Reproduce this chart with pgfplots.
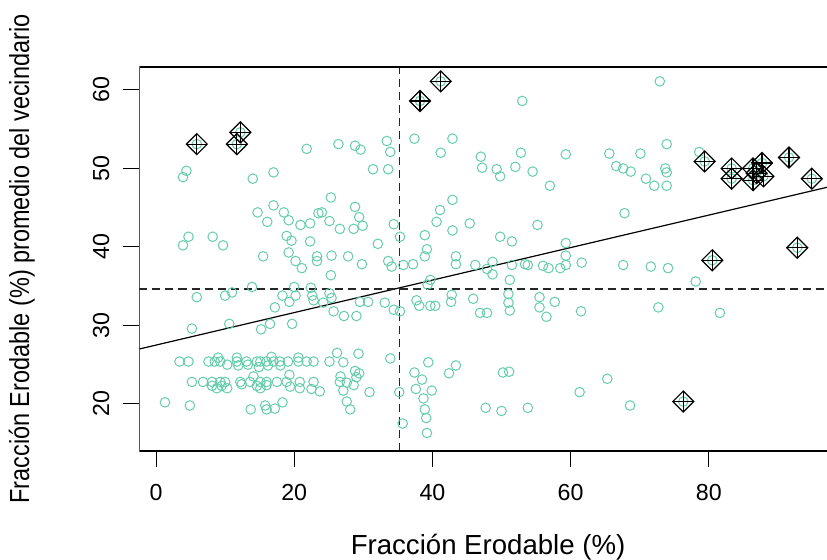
\documentclass[border=0pt]{standalone}
\usepackage{fontspec}
\setmainfont{Liberation Sans}
\usepackage{graphicx}
\usepackage{pgfplots}
\pgfplotsset{compat=1.18}
\usetikzlibrary{calc}
\definecolor{pts}{HTML}{66CDAA}

\begin{document}
\begin{tikzpicture}
\begin{axis}[name=ax,scale only axis,width=343.75pt,height=192pt,
xmin=-2.39,xmax=97.1,ymin=14.0,ymax=62.93,
xtick={0,20,40,60,80},ytick={20,30,40,50,60},
xtick pos=bottom,ytick pos=left,
tick align=outside,major tick length=8pt,tick style={black,line width=0.5pt},
axis line style={draw=none},
/pgf/number format/assume math mode=true,
ticklabel style={font=\fontsize{11.6}{13}\selectfont},
xticklabel style={yshift=-5pt},
yticklabel style={xshift=-3.5pt,rotate=90,anchor=south},
xlabel={Fracción Erodable (\%)},
ylabel={\scalebox{0.85}[1]{Fracción Erodable (\%) promedio del vecindario}},
label style={font=\fontsize{13.8}{16}\selectfont},
xlabel style={at={(axis description cs:0.507,-0.25)},anchor=center},
ylabel style={at={(axis description cs:-0.171,0.5)},anchor=center}]
% todos los puntos
\addplot[only marks,mark=o,mark size=2.4pt,pts,mark options={line width=0.5pt}] coordinates {
(5.9,53.1)(12.2,54.6)(11.7,53.1)(21.8,52.5)(4.4,49.7)(3.9,48.9)(14.0,48.7)(17.0,49.5)
(41.2,61.1)(38.2,58.6)(26.4,53.1)(28.8,52.9)(29.6,52.4)(33.4,53.5)(33.9,52.1)(37.4,53.8)
(42.9,53.8)(41.2,52.0)(31.4,49.9)(33.6,49.9)(47.0,51.5)(47.2,50.1)(49.3,49.9)(49.8,49.0)
(72.9,61.1)(53.0,58.6)(52.8,52.0)(59.3,51.8)(65.6,51.9)(70.1,51.9)(73.9,53.1)(52.0,50.2)
(54.5,49.6)(57.0,47.8)(66.6,50.3)(67.6,50.0)(68.7,49.6)(70.9,48.7)(72.1,47.8)(73.7,50.0)
(73.9,49.5)(73.9,47.8)(78.6,52.1)
(79.4,50.9)(83.3,50.0)(83.3,48.7)(86.4,50.0)(87.7,50.7)(86.9,49.4)(86.4,48.5)(87.9,49.0)
(91.6,51.4)(94.9,48.7)(80.5,38.3)(92.8,39.9)(76.3,20.3)
(78.1,35.6)(81.6,31.6)
(17.0,45.3)(14.7,44.4)(18.5,44.4)(16.1,43.2)(19.2,43.4)(20.9,42.8)(22.3,43.0)(23.5,44.3)
(4.7,41.3)(3.9,40.2)(8.2,41.3)(9.7,40.2)(18.9,41.4)(19.6,40.8)(22.3,40.7)(15.5,38.8)
(19.2,39.3)(20.2,38.2)(21.1,37.3)(23.3,38.8)(23.3,38.2)(13.9,34.9)(5.9,33.6)(10.0,33.8)
(11.0,34.2)(20.0,34.9)(18.3,33.8)(19.3,33.0)(20.2,33.8)(22.4,34.8)(22.6,33.8)(22.8,33.2)
(17.2,32.3)
(25.3,46.3)(24.0,44.4)(28.8,45.1)(29.4,43.8)(25.1,43.3)(26.6,42.3)(28.6,42.3)(29.9,42.7)
(34.4,42.9)(35.3,41.3)(32.1,40.4)(38.9,41.5)(39.2,39.7)(38.9,38.8)(42.9,46.0)(41.1,44.7)
(40.6,43.2)(42.9,42.1)(45.4,43.0)(49.8,41.3)(25.4,38.9)(27.8,38.8)(29.8,37.8)(25.3,36.4)
(33.6,38.2)(34.1,37.5)(35.8,37.7)(37.2,37.8)(43.4,38.8)(43.4,37.8)(46.2,37.7)(47.9,37.2)
(48.7,38.1)(48.7,36.5)(39.7,35.8)(39.3,35.2)(25.1,34.1)(25.4,33.5)(24.2,32.9)(29.5,33.0)
(30.7,33.0)(33.1,32.9)(37.7,33.2)(38.1,32.5)(39.7,32.5)(40.4,32.5)(42.8,33.9)(42.7,33.0)
(45.9,33.4)(25.7,31.8)(34.4,32.0)(35.3,31.8)(46.9,31.6)(47.9,31.6)
(67.8,44.3)(55.2,42.8)(51.5,40.7)(59.3,40.5)(59.3,38.9)(51.5,37.7)(53.4,37.8)(53.8,37.7)
(56.0,37.6)(56.8,37.3)(58.5,37.3)(59.3,37.7)(61.6,38.0)(67.6,37.7)(71.6,37.5)(74.1,37.3)
(51.2,35.8)(51.0,34.0)(51.0,32.9)(51.2,31.9)(55.5,33.6)(57.7,33.0)(55.5,32.3)(61.5,31.8)
(72.7,32.3)(56.5,31.1)
(50.2,24.0)(51.1,24.1)(65.3,23.2)(61.3,21.5)(50.0,19.1)(53.8,19.5)(68.6,19.8)
(27.2,31.2)(29.0,31.2)
(26.2,26.5)(29.3,26.4)(25.1,25.4)(27.1,25.3)(33.9,25.8)(39.4,25.3)(43.4,24.9)(42.4,23.9)
(37.4,24.0)(38.5,23.1)(28.8,24.2)(29.4,23.9)(29.0,23.4)(26.7,23.5)(26.6,22.8)(27.6,22.7)
(28.6,22.4)(27.1,21.7)(23.7,21.6)(30.9,21.5)(35.2,21.5)(37.6,21.9)(39.9,21.7)(38.7,20.7)
(27.6,20.3)(28.1,19.3)(38.9,19.3)(39.1,18.2)(35.7,17.5)(39.2,16.3)(47.7,19.5)
(5.2,29.6)(10.6,30.2)(15.2,29.5)(16.5,30.2)(19.7,30.2)
(3.4,25.4)(4.7,25.4)(7.6,25.4)(8.5,25.4)(9.3,25.4)(11.7,25.4)(13.1,25.4)(14.6,25.4)
(15.1,25.4)(16.0,25.4)(17.0,25.4)(17.9,25.4)(19.1,25.4)(20.6,25.4)(21.8,25.4)(22.8,25.4)
(9.0,25.9)(11.7,25.9)(16.7,26.0)(20.6,25.9)
(10.3,25.0)(11.9,24.9)(13.3,25.0)(14.9,24.7)(16.2,24.9)(18.0,24.9)
(5.2,22.8)(6.8,22.8)(8.1,22.8)(9.3,22.8)(10.0,22.8)(12.2,22.8)(13.6,22.8)(15.1,22.8)
(16.0,22.8)(17.5,22.8)(18.9,22.8)(20.8,22.8)(22.8,22.8)
(8.1,22.3)(8.8,22.0)(9.5,22.3)(10.3,22.0)(12.4,22.5)(14.6,22.3)(15.1,22.0)(16.0,22.4)
(19.4,22.2)(20.8,22.0)(22.5,21.9)(14.1,23.5)(19.3,23.7)
(1.3,20.2)(4.9,19.8)(13.7,19.3)(15.8,19.8)(16.0,19.3)(17.2,19.4)(18.3,20.2)
};
% recta de regresion y medias
\addplot[black,line width=0.6pt] coordinates {(-2.39,27.0)(97.1,47.6)};
\addplot[black!85,line width=0.65pt,dash pattern=on 4pt off 2.5pt] coordinates {(35.2,14.0)(35.2,62.93)};
\addplot[black!85,line width=0.65pt,dash pattern=on 4pt off 2.5pt] coordinates {(-2.39,34.65)(97.1,34.65)};
% puntos influyentes
\addplot[only marks,mark=square,mark size=3.7pt,black,mark options={rotate=45,line width=0.6pt}] coordinates {
(5.9,53.1)(12.2,54.6)(11.7,53.1)(41.2,61.1)(38.2,58.6)
(79.4,50.9)(83.3,50.0)(83.3,48.7)(86.4,50.0)(87.7,50.7)(86.9,49.4)(86.4,48.5)(87.9,49.0)
(91.6,51.4)(94.9,48.7)(80.5,38.3)(92.8,39.9)(76.3,20.3)};
\addplot[only marks,mark=+,mark size=5.2pt,black,mark options={line width=0.6pt}] coordinates {
(5.9,53.1)(12.2,54.6)(11.7,53.1)(41.2,61.1)(38.2,58.6)
(79.4,50.9)(83.3,50.0)(83.3,48.7)(86.4,50.0)(87.7,50.7)(86.9,49.4)(86.4,48.5)(87.9,49.0)
(91.6,51.4)(94.9,48.7)(80.5,38.3)(92.8,39.9)(76.3,20.3)};
\draw[black,line width=0.6pt] (rel axis cs:1,1) -- (rel axis cs:0,1) -- (rel axis cs:0,0) -- (rel axis cs:1,0);
\end{axis}
\pgfresetboundingbox
\path[use as bounding box] ($(ax.south west)+(-69.75pt,-54.5pt)$) rectangle ($(ax.north east)+(0pt,33.5pt)$);
\end{tikzpicture}
\end{document}
